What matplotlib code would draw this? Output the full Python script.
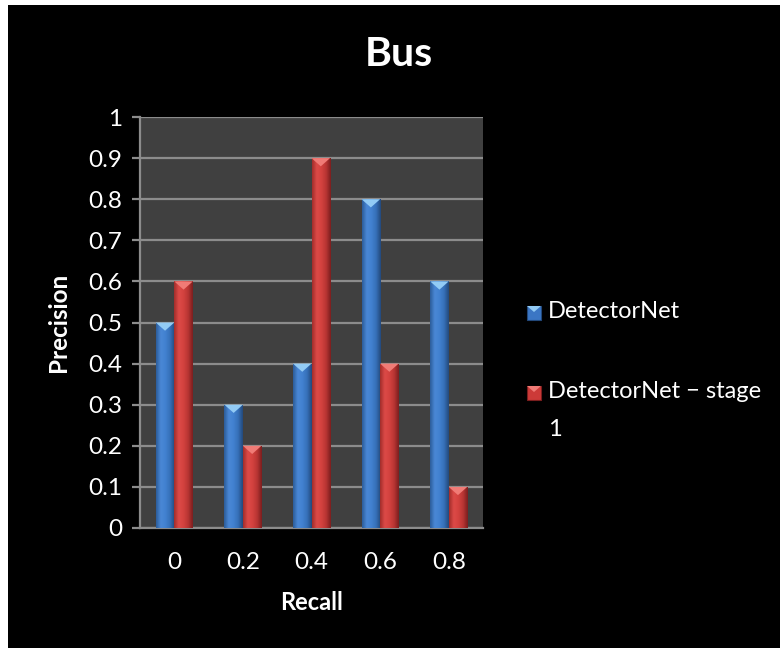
import numpy as np
import matplotlib
matplotlib.use("Agg")
import matplotlib.pyplot as plt
from matplotlib.patches import Rectangle, Polygon
from matplotlib.colors import LinearSegmentedColormap

# ---- data -------------------------------------------------------------
recall_labels = ["0", "0.2", "0.4", "0.6", "0.8"]
detectornet = [0.5, 0.3, 0.4, 0.8, 0.6]
detectornet_stage1 = [0.6, 0.2, 0.9, 0.4, 0.1]
series_names = ["DetectorNet", "DetectorNet \u2212 stage\n1"]
y_ticks = [0, 0.1, 0.2, 0.3, 0.4, 0.5, 0.6, 0.7, 0.8, 0.9, 1.0]
y_tick_labels = ["0", "0.1", "0.2", "0.3", "0.4", "0.5", "0.6", "0.7", "0.8", "0.9", "1"]

# ---- style ------------------------------------------------------------
plt.rcParams["font.family"] = ["Lato", "DejaVu Sans"]
W, H = 780, 648
fig = plt.figure(figsize=(W / 100, H / 100), dpi=100, facecolor="white")

# black chart area inside a thin white margin
fig.add_artist(Rectangle((8 / W, 0), 1 - 8 / W, (H - 5) / H, transform=fig.transFigure,
                         facecolor="black", edgecolor="none", zorder=0))

ax = fig.add_axes([140 / W, 1 - 528 / H, (483 - 140) / W, (528 - 117) / H])
ax.set_facecolor("#404040")

styles = [
    dict(base="#3b76c4", top="#92cbf5",
         grad=["#2b5b98", "#4a88d6", "#4281d0", "#3670b8", "#22487a"]),
    dict(base="#cc3a38", top="#f07b76",
         grad=["#a02c2a", "#dc4a47", "#d4423f", "#b83533", "#7a1e1e"]),
]

x = np.arange(len(recall_labels))
bw = 0.27
gradient = np.linspace(0, 1, 128).reshape(1, -1)

for i, (vals, st) in enumerate(zip([detectornet, detectornet_stage1], styles)):
    offs = (i - 0.5) * bw
    bars = ax.bar(x + offs, vals, width=bw, color=st["base"], edgecolor="none", zorder=3)
    cmap = LinearSegmentedColormap.from_list(f"g{i}", st["grad"])
    for b in bars:
        bx, bwid, bh = b.get_x(), b.get_width(), b.get_height()
        im = ax.imshow(gradient, cmap=cmap, extent=(bx, bx + bwid, 0, bh),
                       aspect="auto", interpolation="bicubic", zorder=3.5)
        im.set_clip_path(b)
        tri_h = 0.02
        ax.add_patch(Polygon([(bx, bh), (bx + bwid, bh), (bx + bwid / 2, bh - tri_h)],
                             closed=True, facecolor=st["top"], edgecolor="none", zorder=4))

ax.set_xlim(-0.5, len(recall_labels) - 0.5)
ax.set_ylim(0, 1)
ax.set_yticks(y_ticks)
ax.set_yticklabels(y_tick_labels)
ax.set_xticks(x)
ax.set_xticklabels(recall_labels)

ax.grid(axis="y", color="#8c8c8c", linewidth=1.6, zorder=1)
ax.set_axisbelow(True)
for s in ["top", "right"]:
    ax.spines[s].set_visible(False)
for s in ["left", "bottom"]:
    ax.spines[s].set_color("#8c8c8c")
    ax.spines[s].set_linewidth(1.6)

ax.tick_params(axis="y", colors="#8c8c8c", length=6, width=1.6, pad=7,
               labelcolor="white", labelsize=17.5)
ax.tick_params(axis="x", length=0, pad=17, labelcolor="white", labelsize=17.5)

ax.set_xlabel("Recall", color="white", fontsize=17, fontweight="bold", labelpad=13)
ax.set_ylabel("Precision", color="white", fontsize=17.5, fontweight="bold", labelpad=13)

fig.text(399 / W, 1 - 55 / H, "Bus", color="white", fontsize=29.5, fontweight="bold",
         ha="center", va="center")

# legend
legend_rows = [313, 393]
for name, st, yc in zip(series_names, styles, legend_rows):
    sx, sz = 527, 14
    fig.add_artist(Rectangle((sx / W, 1 - (yc + sz / 2) / H), sz / W, sz / H,
                             transform=fig.transFigure, facecolor=st["base"],
                             edgecolor=st["grad"][-1], linewidth=0.8, zorder=5))
    fig.add_artist(Polygon([(sx / W, 1 - (yc - sz / 2) / H), ((sx + sz) / W, 1 - (yc - sz / 2) / H),
                            ((sx + sz / 2) / W, 1 - (yc - 1) / H)], closed=True,
                           transform=fig.transFigure, facecolor=st["top"],
                           edgecolor="none", zorder=6))
    fig.text(548 / W, 1 - (yc - 12) / H, name, color="white", fontsize=17,
             ha="left", va="top", linespacing=2.0)

fig.savefig("out.png", dpi=100, facecolor=fig.get_facecolor())
